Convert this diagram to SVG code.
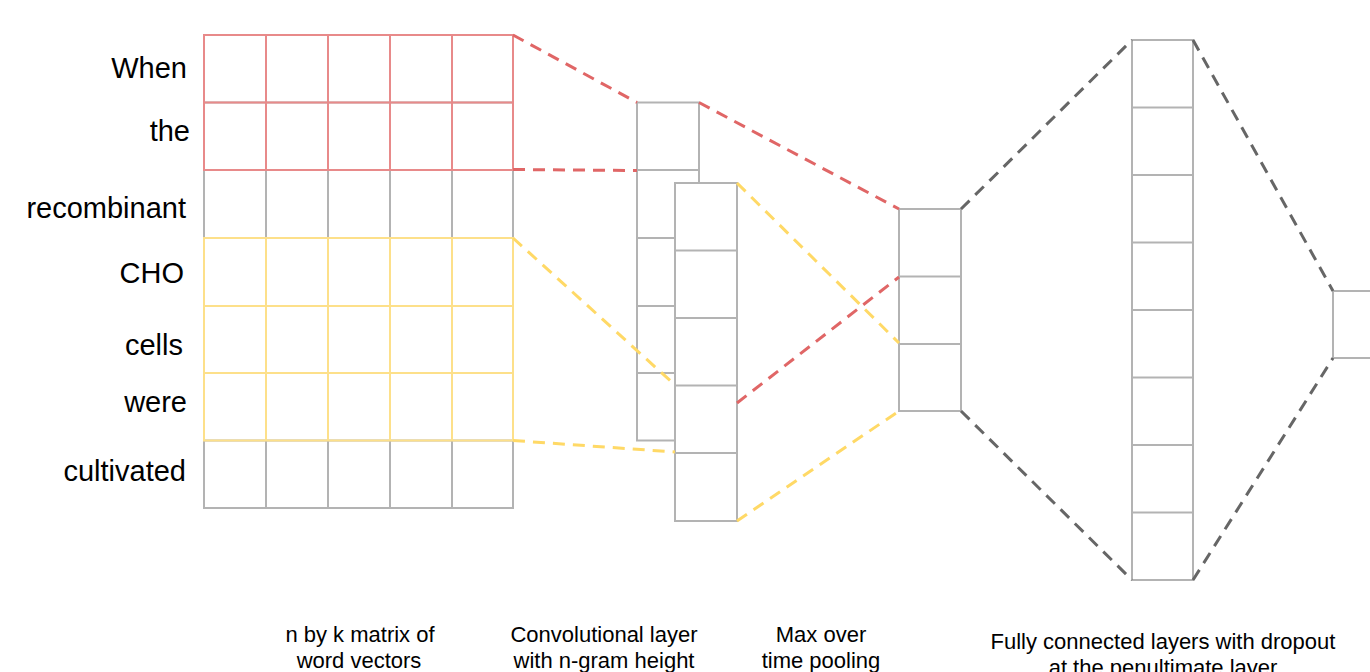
<svg xmlns="http://www.w3.org/2000/svg" width="1370" height="672" viewBox="0 0 1370 672">
<style>
.g{fill:none;stroke:#b3b3b3;stroke-width:2}
.gw{fill:#ffffff;stroke:#b3b3b3;stroke-width:2}
.r{fill:none;stroke:#e88a8a;stroke-width:2}
.y{fill:none;stroke:#fde08a;stroke-width:2}
.dr{fill:none;stroke:#e06666;stroke-width:3;stroke-dasharray:12 8}
.dy{fill:none;stroke:#ffd966;stroke-width:3;stroke-dasharray:12 8}
.dg{fill:none;stroke:#666666;stroke-width:3;stroke-dasharray:12 8}
.w{font-family:"Liberation Sans",Arial,sans-serif;font-size:29px;fill:#000;text-anchor:end}
.c{font-family:"Liberation Sans",Arial,sans-serif;font-size:22px;fill:#000;text-anchor:middle}
</style>
<rect width="1370" height="672" fill="#ffffff"/>
<g id="words">
<text class="w" x="187" y="78">When</text>
<text class="w" x="190" y="141">the</text>
<text class="w" x="186" y="218">recombinant</text>
<text class="w" x="184" y="283">CHO</text>
<text class="w" x="183" y="355">cells</text>
<text class="w" x="187" y="412">were</text>
<text class="w" x="186" y="481">cultivated</text>
</g>
<g id="matrix">
<rect class="g" x="204" y="35" width="309" height="473"/>
<path class="g" d="M266 35V508M328 35V508M390 35V508M452 35V508M204 102.5H513M204 170H513M204 238H513M204 306H513M204 373H513M204 440.5H513"/>
<rect class="y" x="204" y="238" width="309" height="202.5"/>
<path class="y" d="M266 238V440.5M328 238V440.5M390 238V440.5M452 238V440.5M204 306H513M204 373H513"/>
<rect class="r" x="204" y="35" width="309" height="135"/>
<path class="r" d="M266 35V170M328 35V170M390 35V170M452 35V170M204 102.5H513"/>
</g>
<g id="conv-back">
<rect class="gw" x="637" y="102.5" width="62" height="338"/>
<path class="g" d="M637 170H699M637 238H699M637 306H699M637 373H699"/>
</g>
<g id="conv-front">
<rect class="gw" x="675" y="183" width="62" height="338"/>
<path class="g" d="M675 250.5H737M675 318H737M675 385.5H737M675 453H737"/>
</g>
<g id="maxpool">
<rect class="gw" x="899" y="209" width="62" height="202"/>
<path class="g" d="M899 276.5H961M899 344H961"/>
</g>
<g id="fc">
<rect class="gw" x="1132" y="40" width="61" height="540"/>
<path class="g" d="M1132 107.5H1193M1132 175H1193M1132 242.5H1193M1132 310H1193M1132 377.5H1193M1132 445H1193M1132 512.5H1193"/>
</g>
<g id="output">
<rect class="gw" x="1333" y="291" width="50" height="67"/>
</g>
<g id="connectors">
<path class="dr" d="M513 35L637 102.5"/>
<path class="dr" d="M513 169.5L637 170.5"/>
<path class="dr" d="M699 102.5L899 209"/>
<path class="dr" d="M737 403L899 277"/>
<path class="dy" d="M513 238L675 385"/>
<path class="dy" d="M513 440.5L675 452"/>
<path class="dy" d="M737 183L899 343"/>
<path class="dy" d="M737 521L899 411"/>
<path class="dg" d="M961 209L1132 40"/>
<path class="dg" d="M961 411L1132 580"/>
<path class="dg" d="M1193 40L1333 291"/>
<path class="dg" d="M1193 580L1333 358"/>
</g>
<g id="captions">
<text class="c" x="360" y="642">n by k matrix of</text>
<text class="c" x="359" y="668">word vectors</text>
<text class="c" x="604" y="642">Convolutional layer</text>
<text class="c" x="604" y="668">with n-gram height</text>
<text class="c" x="821" y="642">Max over</text>
<text class="c" x="821" y="668">time pooling</text>
<text class="c" x="1163" y="649">Fully connected layers with dropout</text>
<text class="c" x="1163" y="675">at the penultimate layer</text>
</g>
</svg>
